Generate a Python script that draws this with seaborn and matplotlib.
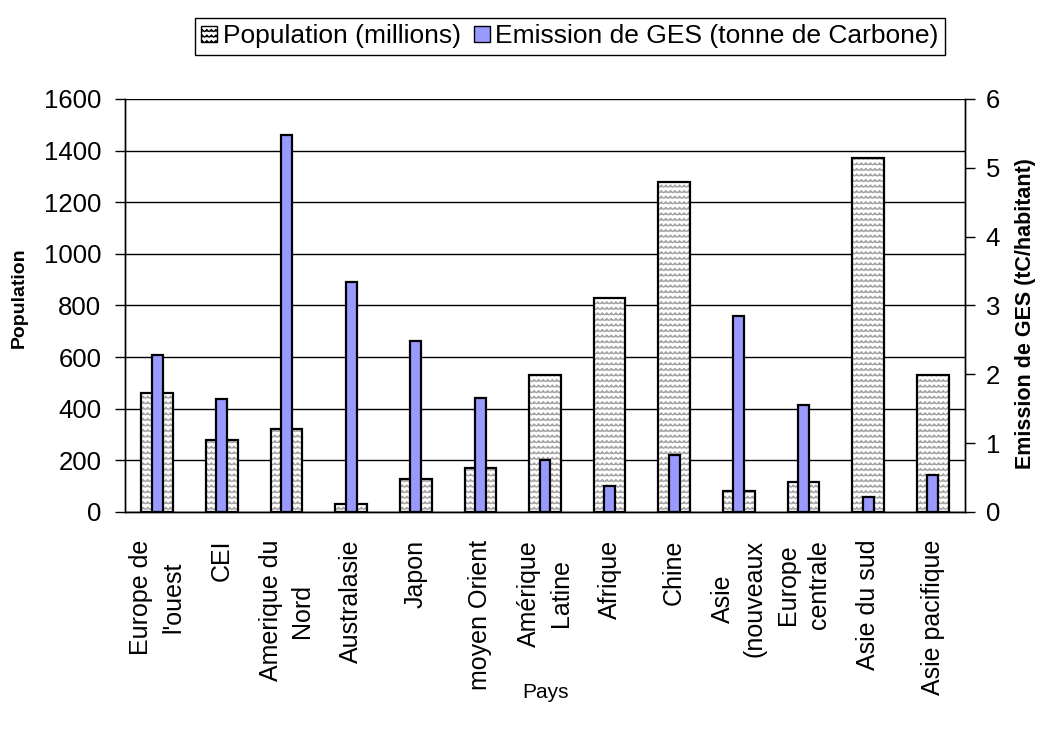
import warnings
import numpy as np
import matplotlib
matplotlib.use("Agg")
import matplotlib.pyplot as plt
import matplotlib.hatch as mhatch
from matplotlib.path import Path
from matplotlib.patches import Patch
import seaborn as sns

# --- data -------------------------------------------------------------
regions = [
    "Europe de\nl'ouest", "CEI", "Amerique du\nNord", "Australasie", "Japon",
    "moyen Orient", "Amérique\nLatine", "Afrique", "Chine", "Asie\n(nouveaux",
    "Europe\ncentrale", "Asie du sud", "Asie pacifique",
]
population = [460, 280, 320, 30, 127, 170, 530, 830, 1280, 80, 115, 1370, 530]
emission = [2.28, 1.64, 5.47, 3.34, 2.49, 1.65, 0.75, 0.38, 0.83, 2.85, 1.56, 0.22, 0.54]
pop_ticks = [0, 200, 400, 600, 800, 1000, 1200, 1400, 1600]
ges_ticks = [0, 1, 2, 3, 4, 5, 6]


# --- zig-zag fill pattern (hatch character 'z') -------------------------
class ZigZagHatch(mhatch.HatchPatternBase):
    segments = 44  # even, so the pattern tiles seamlessly
    amp = 0.011

    def __init__(self, hatch, density):
        self.num_rows = int(hatch.count("z") * density)
        self.num_vertices = self.num_rows * (self.segments + 1)

    def set_vertices_and_codes(self, vertices, codes):
        n = self.segments + 1
        xs = np.linspace(0.0, 1.0, n)
        offs = np.where(np.arange(n) % 2 == 0, -self.amp, self.amp)
        for i in range(self.num_rows):
            y = (i + 0.5) / self.num_rows
            sl = slice(i * n, (i + 1) * n)
            vertices[sl, 0] = xs
            vertices[sl, 1] = y + offs
            codes[sl] = Path.LINETO
            codes[i * n] = Path.MOVETO


mhatch._hatch_types.append(ZigZagHatch)
warnings.filterwarnings("ignore", category=matplotlib.MatplotlibDeprecationWarning)

# --- style --------------------------------------------------------------
sns.set_theme(style="white")
plt.rcParams["font.family"] = ["Liberation Sans", "DejaVu Sans"]
plt.rcParams["hatch.linewidth"] = 0.8
for key in ("text.color", "axes.labelcolor", "xtick.color", "ytick.color"):
    plt.rcParams[key] = "black"

BLUE = "#9999FF"
HATCH_GREY = "#a2a2a2"

fig = plt.figure(figsize=(10.38, 7.42), dpi=100)
ax = fig.add_axes([0.1204, 0.31, 0.8093, 0.5566])

# population bars: patterned fill, then black outline
sns.barplot(x=regions, y=population, ax=ax, color="white", edgecolor=HATCH_GREY,
            linewidth=0, hatch="zzz", width=0.49, saturation=1, zorder=2)
sns.barplot(x=regions, y=population, ax=ax, fill=False, color="black",
            linewidth=1.6, width=0.49, zorder=3)

# emissions per inhabitant on the secondary axis
ax2 = ax.twinx()
sns.barplot(x=regions, y=emission, ax=ax2, color=BLUE, edgecolor="black",
            linewidth=1.6, width=0.17, saturation=1, zorder=3)

# --- axes ---------------------------------------------------------------
ax.set_ylim(0, 1600)
ax.set_yticks(pop_ticks)
ax2.set_ylim(0, 6)
ax2.set_yticks(ges_ticks)
ax.set_xlim(-0.5, len(regions) - 0.5)

ax.yaxis.grid(True, color="black", linewidth=1.0)
ax.set_axisbelow(True)

for a in (ax, ax2):
    a.spines["top"].set_visible(False)
    for s in ("left", "right", "bottom"):
        a.spines[s].set_color("black")
        a.spines[s].set_linewidth(1.0)

ax.set_xticks(range(len(regions)))
ax.set_xticklabels(regions, rotation=90, ha="center", va="top", fontsize=18,
                   linespacing=1.4)
ax.set_xticks(np.arange(-0.5, len(regions)), minor=True)
ax.tick_params(axis="x", which="major", length=0, pad=20)
ax.tick_params(axis="x", which="minor", length=7, width=1, color="black", direction="out")
ax.tick_params(axis="y", length=7, width=1, color="black", direction="out",
               labelsize=18.5, pad=10, left=True)
ax2.tick_params(axis="y", length=7, width=1, color="black", direction="out",
                labelsize=18.5, pad=8, right=True)

ax.set_xlabel("Pays", fontsize=15)
ax.xaxis.set_label_coords(0.5, -0.415)
ax.set_ylabel("Population", fontsize=14, fontweight="bold")
ax.yaxis.set_label_coords(-0.116, 0.52)
ax2.set_ylabel("Emission de GES (tC/habitant)", fontsize=15.5, fontweight="bold")
ax2.yaxis.set_label_coords(1.059, 0.48)

# --- legend -------------------------------------------------------------
handles = [
    Patch(facecolor="white", edgecolor="black", hatch="zzz", linewidth=1.0),
    Patch(facecolor=BLUE, edgecolor="black", linewidth=1.0),
]
labels = ["Population (millions)", "Emission de GES (tonne de Carbone)"]
leg = fig.legend(handles, labels, loc="center", bbox_to_anchor=(0.549, 0.951),
                 ncol=2, frameon=True, fancybox=False, edgecolor="black",
                 framealpha=1, fontsize=19, handlelength=0.6, handleheight=0.6,
                 handletextpad=0.2, columnspacing=0.5, borderpad=0.25,
                 borderaxespad=0)
leg.get_frame().set_linewidth(1.0)

fig.savefig("out.png", dpi=100)
